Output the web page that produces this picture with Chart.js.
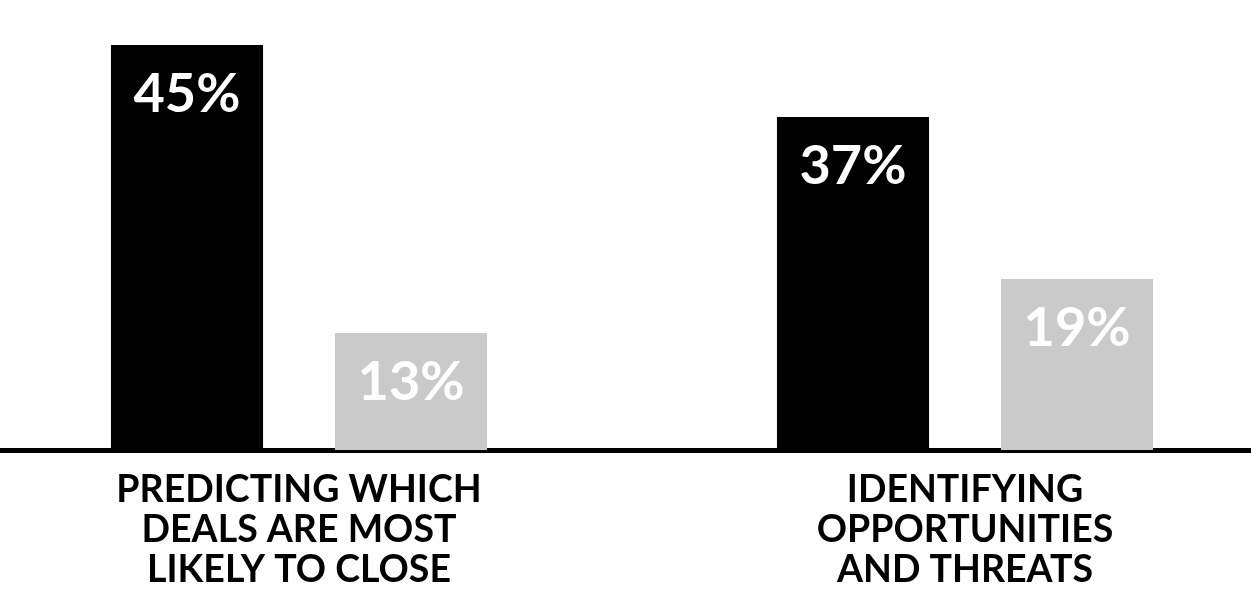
<!DOCTYPE html>
<html>
<head>
<meta charset="utf-8">
<script src="https://cdn.jsdelivr.net/npm/chart.js@4/dist/chart.umd.min.js"></script>
<style>
  html, body { margin: 0; padding: 0; background: #ffffff; overflow: hidden; width: 1251px; height: 593px; }
  #wrap { position: absolute; left: -34px; top: 0; width: 1332px; height: 615px; }
</style>
</head>
<body>
<div id="wrap"><canvas id="c"></canvas></div>
<script>
const categories = [
  ['PREDICTING WHICH', 'DEALS ARE MOST', 'LIKELY TO CLOSE'],
  ['IDENTIFYING', 'OPPORTUNITIES', 'AND THREATS']
];
const seriesBlack = [45, 37];
const seriesGray = [13, 19];
const yMax = 50;

const valueLabels = {
  id: 'valueLabels',
  afterDatasetsDraw(chart) {
    const ctx = chart.ctx;
    ctx.save();
    ctx.fillStyle = '#ffffff';
    ctx.font = 'bold 54px Lato';
    ctx.textAlign = 'center';
    ctx.textBaseline = 'middle';
    chart.data.datasets.forEach((ds, i) => {
      chart.getDatasetMeta(i).data.forEach((bar, j) => {
        ctx.fillText(ds.data[j] + '%', bar.x, bar.y + 50);
      });
    });
    ctx.restore();
  }
};

new Chart(document.getElementById('c'), {
  type: 'bar',
  data: {
    labels: categories,
    datasets: [
      { data: seriesBlack, backgroundColor: '#000000', borderWidth: 0 },
      { data: seriesGray, backgroundColor: '#cacaca', borderWidth: 0 }
    ]
  },
  options: {
    responsive: true,
    maintainAspectRatio: false,
    animation: false,
    categoryPercentage: 0.6727,
    barPercentage: 0.679,
    layout: { padding: { left: 0, right: 0, top: 0, bottom: 5 } },
    plugins: { legend: { display: false }, tooltip: { enabled: false } },
    scales: {
      x: {
        grid: { display: false, drawTicks: false },
        border: { display: true, color: '#000000', width: 5 },
        ticks: {
          color: '#000000',
          padding: 20,
          maxRotation: 0,
          autoSkip: false,
          font: { family: 'Lato', weight: 'bold', size: 37.5, lineHeight: '40px' }
        }
      },
      y: {
        display: false,
        min: 0,
        max: yMax,
        grid: { display: false }
      }
    }
  },
  plugins: [valueLabels]
});
</script>
</body>
</html>
